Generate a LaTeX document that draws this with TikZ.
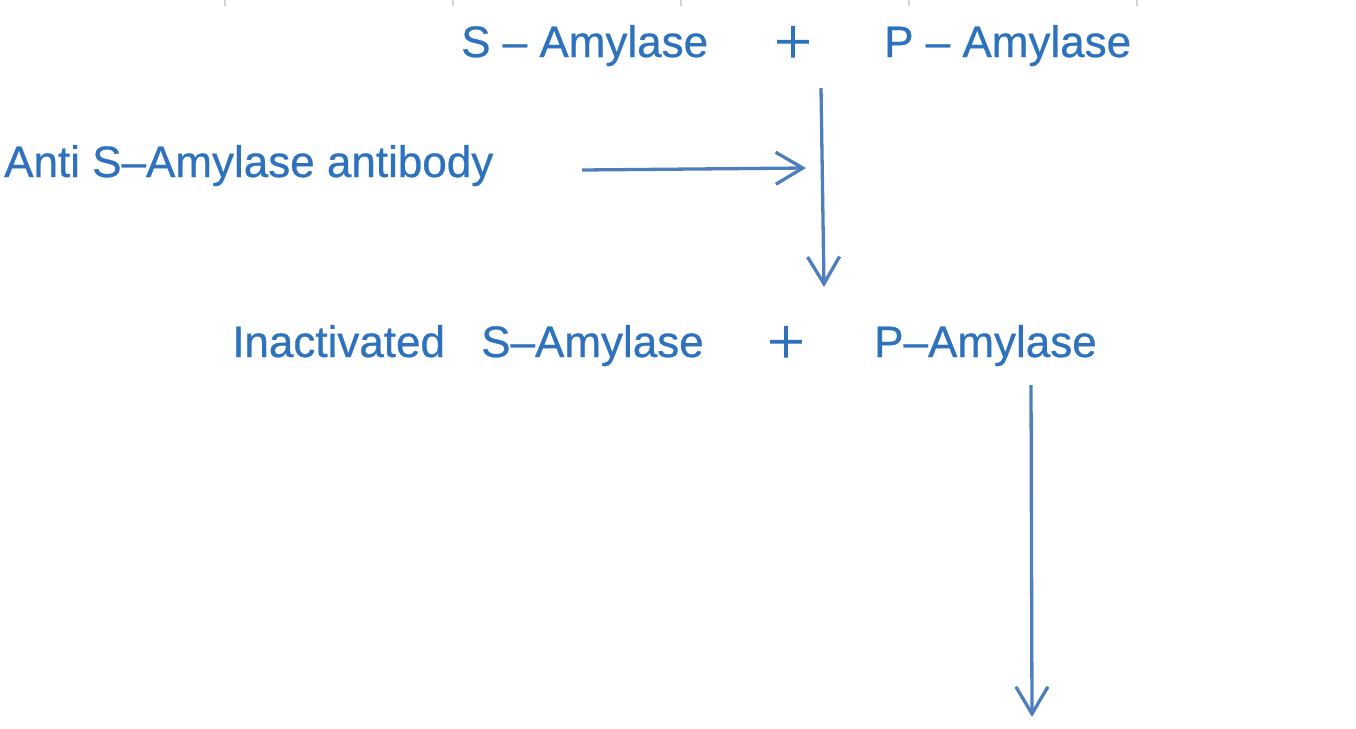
\documentclass[tikz,border=0pt]{standalone}
\usepackage{fontspec}
\setmainfont{Liberation Sans}
\newfontfamily\lblfont[FakeBold=0.6]{Liberation Sans}
\newfontfamily\cjkfont[FakeBold=2.5]{Noto Sans CJK JP}
\usetikzlibrary{arrows.meta}
\definecolor{txtblue}{HTML}{2E72BE}
\definecolor{arrblue}{HTML}{4F7EBE}
\definecolor{tickgray}{HTML}{D4D4D4}
\tikzset{
  lbl/.style={inner sep=0pt, anchor=base west, text=txtblue, font=\lblfont\fontsize{44}{54}\selectfont},
  plus/.style={inner sep=0pt, anchor=center, text=txtblue, font=\cjkfont\fontsize{42}{50}\selectfont},
  flow/.style={draw=arrblue, line width=3.3pt, -{Straight Barb[length=27pt,width=32pt,line width=3.3pt]}},
  tick/.style={draw=tickgray, line width=1.2pt}
}
\begin{document}
\begin{tikzpicture}[x=1pt,y=-1pt]
\useasboundingbox (0,0) rectangle (1356,728);
% top ticks
\foreach \tx in {225,453,681,909,1137}{\draw[tick] (\tx,0) -- (\tx,6);}
% row 1
\node[lbl] (s1) at (461,57) {S – Amylase};
\node[plus] (p1) at (793,42) {＋};
\node[lbl] (pa1) at (884,57) {P – Amylase};
% antibody
\node[lbl] (anti) at (4,177) {Anti S–Amylase antibody};
% row 2
\node[lbl] (inact) at (232,357) {Inactivated};
\node[lbl] (s2) at (481,357) {S–Amylase};
\node[plus] (p2) at (786,342) {＋};
\node[lbl] (pa2) at (874,357) {P–Amylase};
% connector points
\coordinate (v1top) at (821,88);
\coordinate (v1bot) at (824,287);
\coordinate (h1start) at (582,170);
\coordinate (h1end) at (806,168);
\coordinate (v2top) at (1031,385);
\coordinate (v2bot) at (1032,717);
\draw[flow] (v1top) -- (v1bot);
\draw[flow] (h1start) -- (h1end);
\draw[flow] (v2top) -- (v2bot);
\end{tikzpicture}
\end{document}
